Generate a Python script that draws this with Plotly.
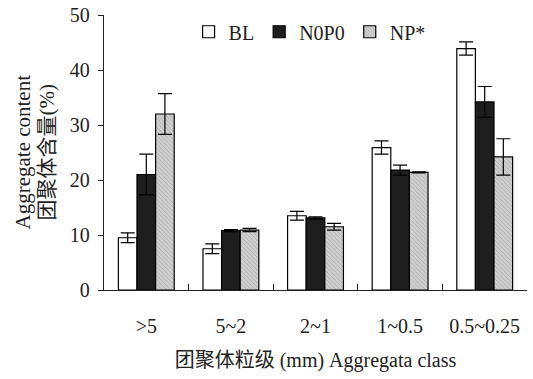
import plotly.graph_objects as go

categories = [">5", "5~2", "2~1", "1~0.5", "0.5~0.25"]
bl = [9.5, 7.5, 13.5, 25.9, 43.9]
bl_err = [0.9, 0.9, 0.8, 1.2, 1.2]
n0p0 = [21.0, 10.8, 13.1, 21.8, 34.2]
n0p0_err = [3.7, 0.2, 0.2, 0.9, 2.8]
np_star = [32.0, 10.9, 11.5, 21.4, 24.2]
np_err = [3.7, 0.3, 0.6, 0.1, 3.3]

FONT = "Liberation Serif, Times New Roman, Noto Sans CJK SC, serif"
INK = "#222"

def eb(arr):
    return dict(type="data", array=arr, visible=True, color="black", thickness=1.2, width=7)

fig = go.Figure()
fig.add_trace(go.Bar(name="BL", x=categories, y=bl, error_y=eb(bl_err),
                     marker=dict(color="white", line=dict(color="black", width=1.2))))
fig.add_trace(go.Bar(name="N0P0", x=categories, y=n0p0, error_y=eb(n0p0_err),
                     marker=dict(color="#1e1e1e", line=dict(color="black", width=1.2))))
fig.add_trace(go.Bar(name="NP*", x=categories, y=np_star, error_y=eb(np_err),
                     marker=dict(color="#c8c8c8", line=dict(color="black", width=1.2),
                                 pattern=dict(shape="\\", fgcolor="#808080", bgcolor="#cfcfcf",
                                              size=3, solidity=0.25, fillmode="overlay"))))

fig.update_layout(
    width=533, height=379,
    margin=dict(l=104, r=6, t=15, b=89, autoexpand=False),
    paper_bgcolor="white", plot_bgcolor="white",
    barmode="group", bargap=0.34, bargroupgap=0,
    font=dict(family=FONT, size=20, color=INK),
    showlegend=True,
    legend=dict(orientation="h", x=0.2, xanchor="left", y=1.01, yanchor="top",
                font=dict(family=FONT, size=20, color=INK), bgcolor="rgba(0,0,0,0)",
                itemwidth=30, tracegroupgap=0),
    xaxis=dict(showline=True, linecolor=INK, linewidth=1.3, ticks="inside",
               tickson="boundaries", ticklen=6, tickcolor=INK, tickwidth=1.3,
               ticklabelstandoff=18, tickfont=dict(family=FONT, size=20, color=INK),
               title=dict(text="团聚体粒级 (mm) Aggregata class", standoff=16,
                          font=dict(family=FONT, size=20, color=INK)),
               showgrid=False, automargin=False),
    yaxis=dict(range=[0, 50], dtick=10, showline=True, linecolor=INK, linewidth=1.3,
               ticks="outside", ticklen=5, tickcolor=INK, tickwidth=1.3,
               ticklabelstandoff=4, ticklabeloverflow="allow",
               tickfont=dict(family=FONT, size=20, color=INK),
               showgrid=False, zeroline=False, automargin=False),
    annotations=[
        dict(text="Aggregate content", x=0, y=0.5, xref="paper", yref="paper",
             xanchor="center", yanchor="middle", xshift=-82, textangle=-90,
             showarrow=False, font=dict(family=FONT, size=21, color=INK)),
        dict(text="团聚体含量(%)", x=0, y=0.5, xref="paper", yref="paper",
             xanchor="center", yanchor="middle", xshift=-58, textangle=-90,
             showarrow=False, font=dict(family=FONT, size=21, color=INK)),
    ],
)

# remove the default 8px page margin so the figure fills the window exactly
fig.write_html("out.html", config={"displayModeBar": False},
               post_script="document.body.style.margin='0';document.body.style.overflow='hidden';")
